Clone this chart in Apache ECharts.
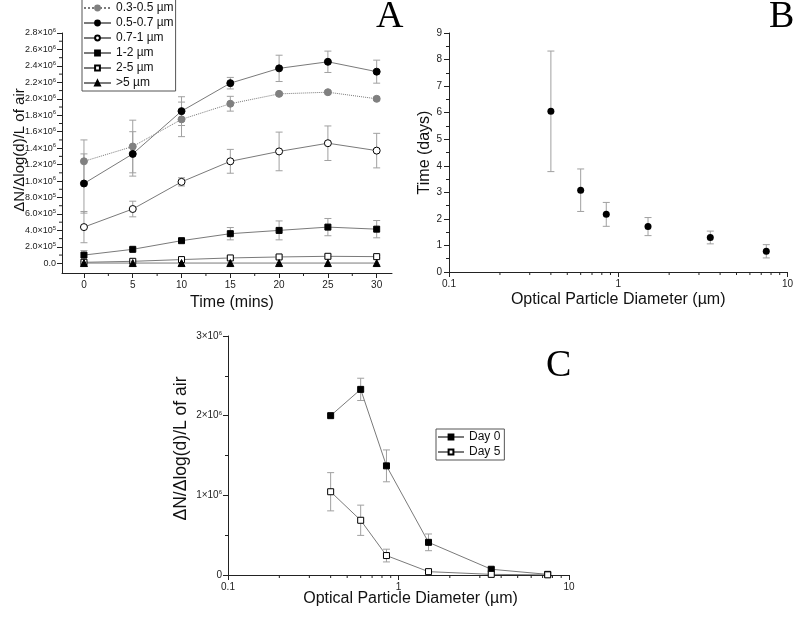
<!DOCTYPE html>
<html><head><meta charset="utf-8">
<script src="https://cdn.jsdelivr.net/npm/echarts@6/dist/echarts.min.js"></script>
<style>html,body{margin:0;padding:0;background:#fff}#c{width:796px;height:617px}</style>
</head><body><div id="c"></div>
<script>
// ---------- Panel A data ----------
const timeMins = [0, 5, 10, 15, 20, 25, 30];
const sizeNames = ['0.3-0.5 µm', '0.5-0.7 µm', '0.7-1 µm', '1-2 µm', '2-5 µm', '>5 µm'];
const s03 = [1.24e6, 1.42e6, 1.75e6, 1.94e6, 2.06e6, 2.08e6, 2.00e6];
const s03Err = [0.26e6, 0.32e6, 0.21e6, 0.09e6, 0.02e6, 0.02e6, 0.02e6];
const s05 = [0.97e6, 1.33e6, 1.85e6, 2.19e6, 2.37e6, 2.45e6, 2.33e6];
const s05Err = [0.36e6, 0.27e6, 0.175e6, 0.07e6, 0.16e6, 0.13e6, 0.14e6];
const s07 = [0.44e6, 0.66e6, 0.99e6, 1.24e6, 1.36e6, 1.46e6, 1.37e6];
const s07Err = [0.19e6, 0.095e6, 0.05e6, 0.145e6, 0.235e6, 0.21e6, 0.21e6];
const s12 = [0.10e6, 0.17e6, 0.275e6, 0.36e6, 0.40e6, 0.44e6, 0.415e6];
const s12Err = [0.055e6, 0.02e6, 0.02e6, 0.075e6, 0.115e6, 0.105e6, 0.105e6];
const s25 = [0.012e6, 0.024e6, 0.045e6, 0.065e6, 0.077e6, 0.085e6, 0.081e6];
const s25Err = [0.01e6, 0.01e6, 0.015e6, 0.015e6, 0.02e6, 0.02e6, 0.015e6];
const s5 = [0.003e6, 0.003e6, 0.003e6, 0.003e6, 0.003e6, 0.003e6, 0.003e6];
const s5Err = [0, 0, 0, 0, 0, 0, 0];
const xTicksA = [0, 5, 10, 15, 20, 25, 30];
const xMinorA = [2.5, 7.5, 12.5, 17.5, 22.5, 27.5];
const yTicksA = [0, 2e5, 4e5, 6e5, 8e5, 1e6, 1.2e6, 1.4e6, 1.6e6, 1.8e6, 2e6, 2.2e6, 2.4e6, 2.6e6, 2.8e6];
const yMinorA = [1e5, 3e5, 5e5, 7e5, 9e5, 1.1e6, 1.3e6, 1.5e6, 1.7e6, 1.9e6, 2.1e6, 2.3e6, 2.5e6, 2.7e6];
// ---------- Panel B data ----------
const diameter = [0.4, 0.6, 0.85, 1.5, 3.5, 7.5];
const days = [6.05, 3.08, 2.17, 1.71, 1.30, 0.78];
const daysErr = [2.27, 0.80, 0.45, 0.34, 0.24, 0.25];
const logMinor = [0.2, 0.3, 0.4, 0.5, 0.6, 0.7, 0.8, 0.9, 2, 3, 4, 5, 6, 7, 8, 9];
// ---------- Panel C data ----------
const dayNames = ['Day 0', 'Day 5'];
const day0 = [2.0e6, 2.33e6, 1.37e6, 0.41e6, 0.072e6, 0.008e6];
const day0Err = [0.0e6, 0.14e6, 0.20e6, 0.105e6, 0.02e6, 0.0e6];
const day5 = [1.045e6, 0.687e6, 0.244e6, 0.042e6, 0.008e6, 0.002e6];
const day5Err = [0.24e6, 0.19e6, 0.08e6, 0.015e6, 0.005e6, 0.0e6];

const FONT = 'Liberation Sans, Arial, sans-serif';
const AX = '#222';
const LINE = '#7a7a7a';
const ERR = '#a0a0a0';
const A_XMIN = -2.25, A_XMAX = 31.57, A_YMIN = -0.118e6, A_YMAX = 2.8e6;

function sci(v, fixed) {
  if (v === 0) return fixed ? '0.0' : '0';
  const e = Math.floor(Math.log10(v) + 1e-9);
  const m = v / Math.pow(10, e);
  return (fixed ? m.toFixed(1) : String(Math.round(m))) + '×10{s|' + e + '}';
}
const supRich = { s: { fontSize: 6, fontFamily: FONT, color: AX, verticalAlign: 'bottom', padding: [0, 0, 5, 0] } };

function zip(xs, ys) { return xs.map((x, i) => [x, ys[i]]); }
function errData(xs, ys, es) { return xs.map((x, i) => [x, ys[i], es[i]]); }

function errSeries(xi, yi, data) {
  return {
    type: 'custom', xAxisIndex: xi, yAxisIndex: yi, z: 1, silent: true,
    data: data,
    renderItem: function (params, api) {
      const x = api.value(0), y = api.value(1), e = api.value(2);
      if (!e) return null;
      const top = api.coord([x, y + e]);
      const bot = api.coord([x, y - e]);
      const w = 3.5;
      const st = { stroke: ERR, lineWidth: 1 };
      return { type: 'group', children: [
        { type: 'line', shape: { x1: top[0], y1: top[1], x2: bot[0], y2: bot[1] }, style: st },
        { type: 'line', shape: { x1: top[0] - w, y1: top[1], x2: top[0] + w, y2: top[1] }, style: st },
        { type: 'line', shape: { x1: bot[0] - w, y1: bot[1], x2: bot[0] + w, y2: bot[1] }, style: st }
      ]};
    }
  };
}

// minor tick marks drawn through the axes' own scales
function tickSeries(xi, yi, data, vertical) {
  return {
    type: 'scatter', xAxisIndex: xi, yAxisIndex: yi, z: 5, silent: true, clip: false,
    data: data, symbol: 'rect',
    symbolSize: vertical ? [1, 3] : [3, 1],
    symbolOffset: vertical ? [0, 1.5] : [-1.5, 0],
    itemStyle: { color: AX, opacity: 1 }, emphasis: { disabled: true }
  };
}

function lineSeries(name, xi, yi, data, symbol, fill, size, dashed) {
  return {
    name: name, type: 'line', xAxisIndex: xi, yAxisIndex: yi, z: 3,
    data: data, symbol: symbol, symbolSize: size, showAllSymbol: true,
    lineStyle: { color: LINE, width: 1, type: dashed ? 'dotted' : 'solid' },
    itemStyle: { color: fill, borderColor: fill === '#fff' ? '#000' : fill, borderWidth: 1, opacity: 1 },
    emphasis: { disabled: true }
  };
}

const axisLineStyle = { show: true, onZero: false, lineStyle: { color: AX, width: 1 } };
const labelBase = { fontFamily: FONT, fontSize: 10, color: AX };

const grids = [
  { left: 62, top: 33, width: 330, height: 240 },
  { left: 449, top: 33, width: 342, height: 239 },
  { left: 228, top: 336, width: 341, height: 239 }
];

const xAxes = [
  { type: 'value', gridIndex: 0, min: A_XMIN, max: A_XMAX, position: 'bottom',
    axisLine: axisLineStyle,
    axisTick: { show: true, length: 5, customValues: xTicksA, lineStyle: { color: AX } },
    axisLabel: Object.assign({ customValues: xTicksA, margin: 7 }, labelBase),
    splitLine: { show: false },
    name: 'Time (mins)', nameLocation: 'middle', nameGap: 22, nameMoveOverlap: false,
    nameTextStyle: { fontFamily: FONT, fontSize: 16, color: '#111', padding: [0, 0, 0, 10] } },
  { type: 'log', logBase: 10, gridIndex: 1, min: 0.1, max: 10, position: 'bottom',
    axisLine: axisLineStyle,
    axisTick: { show: true, length: 5, lineStyle: { color: AX } },
    axisLabel: Object.assign({ margin: 7, formatter: v => String(v) }, labelBase),
    splitLine: { show: false },
    name: 'Optical Particle Diameter (µm)', nameLocation: 'middle', nameGap: 20, nameMoveOverlap: false,
    nameTextStyle: { fontFamily: FONT, fontSize: 16, color: '#111', padding: [0, 0, 0, 0] } },
  { type: 'log', logBase: 10, gridIndex: 2, min: 0.1, max: 10, position: 'bottom',
    axisLine: axisLineStyle,
    axisTick: { show: true, length: 5, lineStyle: { color: AX } },
    axisLabel: Object.assign({ margin: 7, formatter: v => String(v) }, labelBase),
    splitLine: { show: false },
    name: 'Optical Particle Diameter (µm)', nameLocation: 'middle', nameGap: 16, nameMoveOverlap: false,
    nameTextStyle: { fontFamily: FONT, fontSize: 16, color: '#111', padding: [0, 0, 0, 24] } }
];

const yAxes = [
  { type: 'value', gridIndex: 0, min: A_YMIN, max: A_YMAX, position: 'left',
    axisLine: axisLineStyle,
    axisTick: { show: true, length: 5, customValues: yTicksA, lineStyle: { color: AX } },
    axisLabel: Object.assign({}, labelBase, { customValues: yTicksA, margin: 6, fontSize: 9, formatter: v => sci(v, true), rich: supRich }),
    splitLine: { show: false },
    name: 'ΔN/Δlog(d)/L of air', nameLocation: 'middle', nameGap: 35, nameMoveOverlap: false,
    nameTextStyle: { fontFamily: FONT, fontSize: 15, color: '#111', padding: [0, 0, 0, 6] } },
  { type: 'value', gridIndex: 1, min: 0, max: 9, interval: 1, position: 'left',
    axisLine: axisLineStyle,
    axisTick: { show: true, length: 5, lineStyle: { color: AX } },
    minorTick: { show: true, splitNumber: 2, length: 3, lineStyle: { color: AX } },
    axisLabel: Object.assign({ margin: 7 }, labelBase),
    splitLine: { show: false },
    name: 'Time (days)', nameLocation: 'middle', nameGap: 16, nameMoveOverlap: false,
    nameTextStyle: { fontFamily: FONT, fontSize: 16, color: '#111' } },
  { type: 'value', gridIndex: 2, min: 0, max: 3e6, interval: 1e6, position: 'left',
    axisLine: axisLineStyle,
    axisTick: { show: true, length: 5, lineStyle: { color: AX } },
    minorTick: { show: true, splitNumber: 2, length: 3, lineStyle: { color: AX } },
    axisLabel: Object.assign({}, labelBase, { margin: 6, fontSize: 10, formatter: v => sci(v, false), rich: supRich }),
    splitLine: { show: false },
    name: 'ΔN/Δlog(d)/L of air', nameLocation: 'middle', nameGap: 38, nameMoveOverlap: false,
    nameTextStyle: { fontFamily: FONT, fontSize: 17.5, color: '#111', padding: [0, 0, 0, 14] } }
];

const seriesA = [s03, s05, s07, s12, s25, s5];
const errsA = [s03Err, s05Err, s07Err, s12Err, s25Err, s5Err];
const symbolsA = [['circle', '#808080', 7, true], ['circle', '#000', 7, false], ['circle', '#fff', 7, false],
                  ['rect', '#000', 6, false], ['rect', '#fff', 6, false], ['triangle', '#000', 7, false]];

const series = [];
seriesA.forEach((d, i) => series.push(errSeries(0, 0, errData(timeMins, d, errsA[i]))));
seriesA.forEach((d, i) => {
  const s = symbolsA[i];
  series.push(lineSeries(sizeNames[i], 0, 0, zip(timeMins, d), s[0], s[1], s[2], s[3]));
});
series.push(errSeries(1, 1, errData(diameter, days, daysErr)));
series.push({ type: 'scatter', xAxisIndex: 1, yAxisIndex: 1, z: 3, data: zip(diameter, days),
  symbol: 'circle', symbolSize: 7, itemStyle: { color: '#000', opacity: 1 }, emphasis: { disabled: true } });
series.push(errSeries(2, 2, errData(diameter, day0, day0Err)));
series.push(errSeries(2, 2, errData(diameter, day5, day5Err)));
series.push(lineSeries(dayNames[0], 2, 2, zip(diameter, day0), 'rect', '#000', 6, false));
series.push(lineSeries(dayNames[1], 2, 2, zip(diameter, day5), 'rect', '#fff', 6, false));
// minor ticks
series.push(tickSeries(0, 0, xMinorA.map(v => [v, A_YMIN]), true));
series.push(tickSeries(0, 0, yMinorA.map(v => [A_XMIN, v]), false));
series.push(tickSeries(1, 1, logMinor.map(v => [v, 0]), true));
series.push(tickSeries(2, 2, logMinor.map(v => [v, 0]), true));

const legendText = { fontFamily: FONT, fontSize: 12, color: '#111' };
const option = {
  animation: false,
  backgroundColor: '#fff',
  grid: grids,
  xAxis: xAxes,
  yAxis: yAxes,
  legend: [
    { data: sizeNames, orient: 'vertical', left: 82, top: -3, itemWidth: 27, itemHeight: 6, itemGap: 3,
      padding: [5, 2, 2, 1], borderColor: '#555', borderWidth: 1, textStyle: legendText, selectedMode: false },
    { data: dayNames, orient: 'vertical', left: 436, top: 429, itemWidth: 26, itemHeight: 6, itemGap: 3,
      padding: [2, 4, 2, 1], borderColor: '#555', borderWidth: 1, textStyle: legendText, selectedMode: false }
  ],
  graphic: [
    { type: 'text', left: 376, top: -2, style: { text: 'A', font: '38px "Liberation Serif", serif', fill: '#000' } },
    { type: 'text', left: 769, top: -2, style: { text: 'B', font: '38px "Liberation Serif", serif', fill: '#000' } },
    { type: 'text', left: 546, top: 347, style: { text: 'C', font: '38px "Liberation Serif", serif', fill: '#000' } }
  ],
  series: series
};
const chart = echarts.init(document.getElementById('c'), null, { renderer: 'canvas' });
chart.setOption(option);
</script></body></html>
